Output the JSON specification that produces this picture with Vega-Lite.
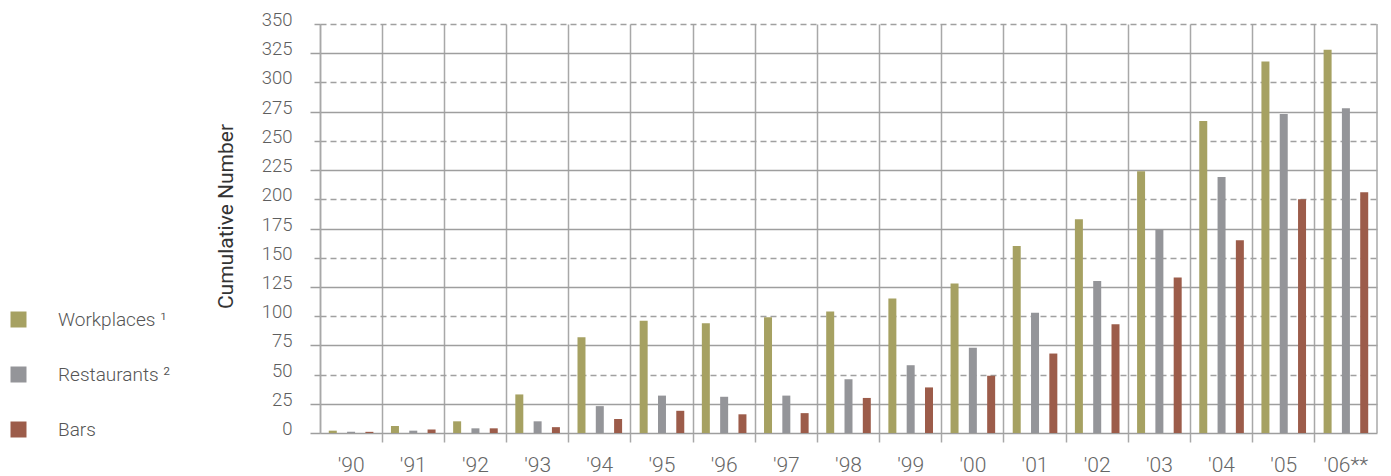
{
  "$schema": "https://vega.github.io/schema/vega-lite/v6.json",
  "width": 1057,
  "height": 409,
  "autosize": "none",
  "padding": {"left": 320, "top": 24, "right": 14, "bottom": 43},
  "background": "white",
  "config": {"view": {"stroke": null}, "font": "Roboto"},
  "layer": [
    {
      "data": {
        "values": [
          {"year": "'90", "series": "Workplaces", "value": 2},
          {"year": "'90", "series": "Restaurants", "value": 1},
          {"year": "'90", "series": "Bars", "value": 1},
          {"year": "'91", "series": "Workplaces", "value": 6},
          {"year": "'91", "series": "Restaurants", "value": 2},
          {"year": "'91", "series": "Bars", "value": 3},
          {"year": "'92", "series": "Workplaces", "value": 10},
          {"year": "'92", "series": "Restaurants", "value": 4},
          {"year": "'92", "series": "Bars", "value": 4},
          {"year": "'93", "series": "Workplaces", "value": 33},
          {"year": "'93", "series": "Restaurants", "value": 10},
          {"year": "'93", "series": "Bars", "value": 5},
          {"year": "'94", "series": "Workplaces", "value": 82},
          {"year": "'94", "series": "Restaurants", "value": 23},
          {"year": "'94", "series": "Bars", "value": 12},
          {"year": "'95", "series": "Workplaces", "value": 96},
          {"year": "'95", "series": "Restaurants", "value": 32},
          {"year": "'95", "series": "Bars", "value": 19},
          {"year": "'96", "series": "Workplaces", "value": 94},
          {"year": "'96", "series": "Restaurants", "value": 31},
          {"year": "'96", "series": "Bars", "value": 16},
          {"year": "'97", "series": "Workplaces", "value": 99},
          {"year": "'97", "series": "Restaurants", "value": 32},
          {"year": "'97", "series": "Bars", "value": 17},
          {"year": "'98", "series": "Workplaces", "value": 104},
          {"year": "'98", "series": "Restaurants", "value": 46},
          {"year": "'98", "series": "Bars", "value": 30},
          {"year": "'99", "series": "Workplaces", "value": 115},
          {"year": "'99", "series": "Restaurants", "value": 58},
          {"year": "'99", "series": "Bars", "value": 39},
          {"year": "'00", "series": "Workplaces", "value": 128},
          {"year": "'00", "series": "Restaurants", "value": 73},
          {"year": "'00", "series": "Bars", "value": 49},
          {"year": "'01", "series": "Workplaces", "value": 160},
          {"year": "'01", "series": "Restaurants", "value": 103},
          {"year": "'01", "series": "Bars", "value": 68},
          {"year": "'02", "series": "Workplaces", "value": 183},
          {"year": "'02", "series": "Restaurants", "value": 130},
          {"year": "'02", "series": "Bars", "value": 93},
          {"year": "'03", "series": "Workplaces", "value": 224},
          {"year": "'03", "series": "Restaurants", "value": 174},
          {"year": "'03", "series": "Bars", "value": 133},
          {"year": "'04", "series": "Workplaces", "value": 267},
          {"year": "'04", "series": "Restaurants", "value": 219},
          {"year": "'04", "series": "Bars", "value": 165},
          {"year": "'05", "series": "Workplaces", "value": 318},
          {"year": "'05", "series": "Restaurants", "value": 273},
          {"year": "'05", "series": "Bars", "value": 200},
          {"year": "'06**", "series": "Workplaces", "value": 328},
          {"year": "'06**", "series": "Restaurants", "value": 278},
          {"year": "'06**", "series": "Bars", "value": 206}
        ]
      },
      "mark": {"type": "bar"},
      "encoding": {
        "x": {
          "field": "year",
          "type": "nominal",
          "title": null,
          "scale": {
            "domain": ["'90", "'91", "'92", "'93", "'94", "'95", "'96", "'97", "'98", "'99", "'00", "'01", "'02", "'03", "'04", "'05", "'06**"],
            "paddingInner": 0,
            "paddingOuter": 0
          },
          "axis": {
            "bandPosition": 0,
            "grid": true,
            "gridColor": "#a8a8a8",
            "gridWidth": 1.5,
            "domain": false,
            "ticks": true,
            "tickSize": 9,
            "tickWidth": 1.5,
            "tickColor": {"condition": {"test": "datum.value === \"'90\"", "value": "rgba(0,0,0,0)"}, "value": "#a8a8a8"},
            "labelAngle": 0,
            "labelFont": "Roboto",
            "labelFontWeight": 300,
            "labelFontSize": 21,
            "labelColor": "#666666",
            "labelPadding": 12
          }
        },
        "xOffset": {
          "field": "series",
          "type": "nominal",
          "scale": {"domain": ["Workplaces", "Restaurants", "Bars"], "paddingInner": 0.563, "paddingOuter": 0.48}
        },
        "y": {
          "field": "value",
          "type": "quantitative",
          "scale": {"domain": [0, 350], "nice": false},
          "axis": {
            "values": [0, 25, 50, 75, 100, 125, 150, 175, 200, 225, 250, 275, 300, 325, 350],
            "grid": true,
            "gridColor": {"condition": {"test": "datum.value % 50 === 0 && datum.value > 0", "value": "#a0a0a0"}, "value": "#9e9e9e"},
            "gridDash": {"condition": {"test": "datum.value % 50 === 0 && datum.value > 0", "value": [6, 4]}, "value": []},
            "gridWidth": 1.5,
            "tickColor": {"condition": {"test": "datum.value % 50 === 0 && datum.value > 0", "value": "#a0a0a0"}, "value": "#9e9e9e"},
            "tickDash": {"condition": {"test": "datum.value % 50 === 0 && datum.value > 0", "value": [6, 4]}, "value": []},
            "tickSize": 10,
            "tickWidth": 1.5,
            "domain": true,
            "domainColor": "#a8a8a8",
            "domainWidth": 1.5,
            "labelFont": "Roboto",
            "labelFontWeight": 300,
            "labelFontSize": 18.5,
            "labelColor": "#5e5e5e",
            "labelPadding": 18,
            "labelBaseline": "alphabetic",
            "labelOffset": 1.5,
            "title": "Cumulative Number",
            "titleFont": "Roboto",
            "titleFontWeight": 400,
            "titleFontSize": 21,
            "titleColor": "#333333",
            "titleAngle": -90,
            "titleAlign": "center",
            "titleBaseline": "alphabetic",
            "titleX": -88,
            "titleY": 192
          }
        },
        "color": {
          "field": "series",
          "type": "nominal",
          "scale": {"domain": ["Workplaces", "Restaurants", "Bars"], "range": ["#a6a162", "#949599", "#9c5c4a"]},
          "legend": {
            "orient": "none",
            "legendX": -311,
            "legendY": 286,
            "title": null,
            "padding": 0,
            "symbolType": "square",
            "symbolSize": 256,
            "symbolStrokeWidth": 0,
            "symbolOpacity": 1,
            "labelFont": "Roboto",
            "labelFontWeight": 300,
            "labelFontSize": 19,
            "labelColor": "#555555",
            "labelOffset": 30,
            "rowPadding": 35,
            "labelExpr": "datum.label === 'Workplaces' ? 'Workplaces ¹' : (datum.label === 'Restaurants' ? 'Restaurants ²' : datum.label)"
          }
        }
      }
    },
    {
      "data": {"values": [{"year": "'06**"}]},
      "mark": {"type": "rule", "color": "#a8a8a8", "strokeWidth": 1.5},
      "encoding": {
        "x": {"field": "year", "type": "nominal", "bandPosition": 1, "title": null}
      }
    }
  ]
}
